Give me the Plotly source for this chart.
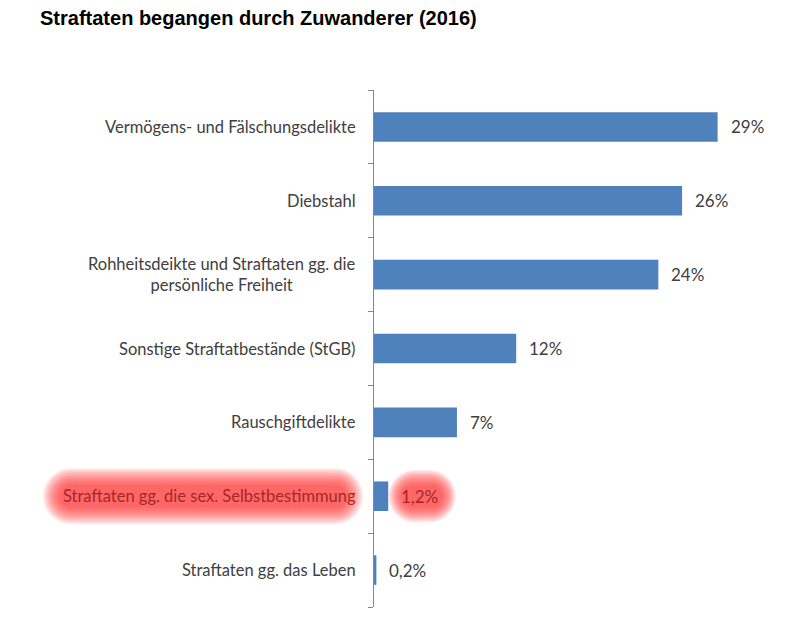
import plotly.graph_objects as go

categories = [
    "Vermögens- und Fälschungsdelikte",
    "Diebstahl",
    "Rohheitsdeikte und Straftaten gg. die<br>persönliche Freiheit",
    "Sonstige Straftatbestände (StGB)",
    "Rauschgiftdelikte",
    "Straftaten gg. die sex. Selbstbestimmung",
    "Straftaten gg. das Leben",
]
values = [29, 26, 24, 12, 7, 1.2, 0.2]
value_labels = ["29%", "26%", "24%", "12%", "7%", "1,2%", "0,2%"]
highlight_index = 5

BAR = "#4f81bd"
TXT = "#404040"
HL_TXT = "#a3282a"
FONT = "Lato"

fig = go.Figure()
fig.add_trace(go.Bar(
    x=values, y=list(range(len(categories))), orientation="h",
    marker=dict(color=BAR, line=dict(width=0)), width=0.4,
    hoverinfo="skip",
))


def pill(x0, x1, y0, y1):
    r = (y1 - y0) / 2.0
    k = 0.5523 * r
    cy = (y0 + y1) / 2.0
    return (f"M {x0 + r},{y0} L {x1 - r},{y0} "
            f"C {x1 - r + k},{y0} {x1},{cy - k} {x1},{cy} "
            f"C {x1},{cy + k} {x1 - r + k},{y1} {x1 - r},{y1} "
            f"L {x0 + r},{y1} "
            f"C {x0 + r - k},{y1} {x0},{cy + k} {x0},{cy} "
            f"C {x0},{cy - k} {x0 + r - k},{y0} {x0 + r},{y0} Z")


shapes = []
layers = 12
for i in range(layers):
    pad = 17 * (1 - i / (layers - 1))
    shapes.append(dict(
        type="path", xref="paper", yref="y", xsizemode="pixel", ysizemode="pixel",
        xanchor=0, yanchor=highlight_index,
        path=pill(-314 - pad, -28 + pad, -11 - pad, 11 + pad),
        fillcolor="rgb(255,45,45)", opacity=0.10, line=dict(width=0), layer="below",
    ))
    shapes.append(dict(
        type="path", xref="x", yref="y", xsizemode="pixel", ysizemode="pixel",
        xanchor=values[highlight_index], yanchor=highlight_index,
        path=pill(14 - pad * 0.8, 54 + pad * 0.8, -11 - pad * 0.9, 11 + pad * 0.9),
        fillcolor="rgb(255,45,45)", opacity=0.10, line=dict(width=0), layer="below",
    ))

annotations = []
for i, (c, v, lab) in enumerate(zip(categories, values, value_labels)):
    col = HL_TXT if i == highlight_index else TXT
    annotations.append(dict(
        x=0, xref="paper", y=i, yref="y", text=c, showarrow=False,
        xanchor="right", yanchor="middle", xshift=-16, align="center",
        font=dict(family=FONT, size=16.5, color=col),
    ))
    annotations.append(dict(
        x=v, xref="x", y=i, yref="y", text=lab, showarrow=False,
        xanchor="left", yanchor="middle", xshift=11,
        font=dict(family=FONT, size=17, color=col),
    ))

fig.update_layout(
    width=770, height=617,
    margin=dict(l=366, r=13, t=82, b=18),
    paper_bgcolor="white", plot_bgcolor="white",
    showlegend=False,
    title=dict(text="<b>Straftaten begangen durch Zuwanderer (2016)</b>",
               x=32 / 770, xanchor="left", y=1 - 10 / 617, yanchor="middle",
               font=dict(family="Liberation Sans, Arial", size=20, color="black")),
    xaxis=dict(range=[0, 33], visible=False, fixedrange=True),
    yaxis=dict(range=[6.5, -0.5], tickmode="array",
               tickvals=[i - 0.5 for i in range(len(categories) + 1)],
               ticktext=[""] * (len(categories) + 1),
               ticks="outside", ticklen=5, tickcolor="#868686", tickwidth=1,
               showline=True, linecolor="#868686", linewidth=1,
               showgrid=False, zeroline=False, fixedrange=True),
    shapes=shapes, annotations=annotations,
)

fig.write_html("out.html")
